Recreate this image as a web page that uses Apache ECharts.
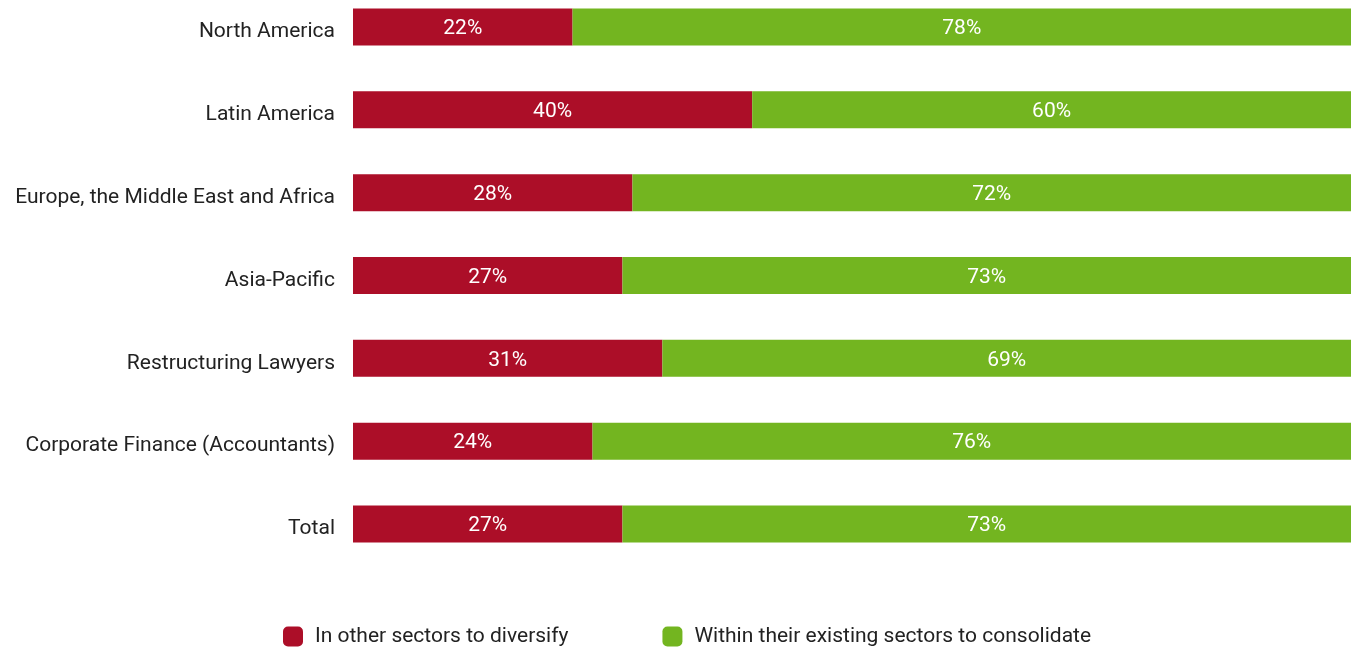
<!DOCTYPE html>
<html>
<head>
<meta charset="utf-8">
<script src="https://cdn.jsdelivr.net/npm/echarts@6/dist/echarts.min.js"></script>
<style>
  html, body { margin: 0; padding: 0; background: #fff; }
  #chart { width: 1351px; height: 647px; }
</style>
</head>
<body>
<div id="chart"></div>
<script>
var categories = ['North America', 'Latin America', 'Europe, the Middle East and Africa', 'Asia-Pacific',
    'Restructuring Lawyers', 'Corporate Finance (Accountants)', 'Total'];
var diversify = [22, 40, 28, 27, 31, 24, 27];
var consolidate = [78, 60, 72, 73, 69, 76, 73];

var myChart = echarts.init(document.getElementById('chart'));

var labelStyle = {
    show: true,
    position: 'inside',
    offset: [0, 2],
    color: '#fff',
    fontSize: 21,
    fontFamily: 'Roboto',
    formatter: '{c}%'
};

var option = {
    animation: false,
    textStyle: { fontFamily: 'Roboto' },
    color: ['#AC0E28', '#73B520'],
    legend: {
        top: 626,
        left: 283,
        padding: 0,
        itemWidth: 20,
        itemHeight: 20,
        itemGap: 94,
        icon: 'roundRect',
        textStyle: { fontSize: 21, color: '#222', fontFamily: 'Roboto', padding: [0, 0, 0, 7] },
        data: ['In other sectors to diversify', 'Within their existing sectors to consolidate']
    },
    grid: {
        left: 353,
        right: 0,
        top: 27,
        height: 497,
        containLabel: false
    },
    xAxis: {
        type: 'value',
        min: 0,
        max: 100,
        show: false
    },
    yAxis: {
        type: 'category',
        inverse: true,
        boundaryGap: false,
        data: categories,
        axisLine: { show: false },
        axisTick: { show: false },
        splitLine: { show: false },
        axisLabel: {
            margin: 18,
            formatter: '{v|{value}}',
            rich: {
                v: { fontSize: 21, color: '#222', fontFamily: 'Roboto', padding: [10, 0, 0, 0] }
            }
        }
    },
    series: [{
        name: 'In other sectors to diversify',
        type: 'bar',
        stack: 'total',
        barWidth: 37,
        label: labelStyle,
        data: diversify
    }, {
        name: 'Within their existing sectors to consolidate',
        type: 'bar',
        stack: 'total',
        barWidth: 37,
        label: labelStyle,
        data: consolidate
    }]
};

myChart.setOption(option);
</script>
</body>
</html>
